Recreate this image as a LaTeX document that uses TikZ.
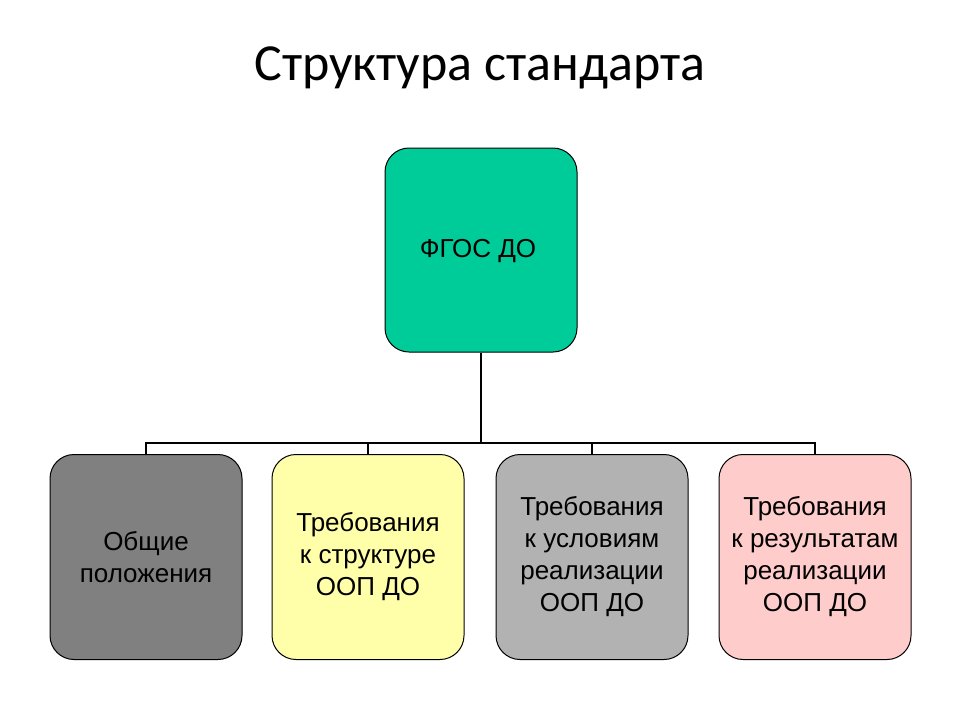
\documentclass[tikz,border=0pt]{standalone}
\usepackage{fontspec}
\setmainfont{Liberation Sans}
\newfontfamily\titlefont{Carlito}
\begin{document}
\begin{tikzpicture}[x=1pt,y=-1pt,
  box/.style={draw=black,line width=1pt,rounded corners=24pt,minimum width=192pt,minimum height=204pt,align=center,font=\fontsize{26}{32}\selectfont,inner sep=0pt},
  conn/.style={line width=2.5pt}]
\useasboundingbox (0,0) rectangle (960,720);
\fill[white] (0,0) rectangle (960,720);
\node (title) at (480,68) {\titlefont\fontsize{52}{60}\selectfont Структура стандарта};
\node[box,fill={rgb,255:red,0;green,204;blue,153}] (top) at (481,250) {};
\node[font=\fontsize{26}{32}\selectfont] (toplabel) at (478,251) {ФГОС ДО};
\node[box,fill={rgb,255:red,128;green,128;blue,128},minimum height=205pt] (b1) at (146,557) {Общие\\положения};
\node[box,fill={rgb,255:red,255;green,255;blue,170},minimum height=205pt] (b2) at (368,557) {Требования\\к структуре\\ООП ДО};
\node[box,fill={rgb,255:red,178;green,178;blue,178},minimum height=205pt] (b3) at (592,557) {Требования\\к условиям\\реализации\\ООП ДО};
\node[box,fill={rgb,255:red,255;green,204;blue,204},minimum height=205pt] (b4) at (815,557) {Требования\\к результатам\\реализации\\ООП ДО};
\coordinate (j) at (481,443);
\draw[conn] (top.south) -- (j);
\draw[line width=2pt] (j) -| (b1.north);
\draw[line width=2pt] (j) -| (b2.north);
\draw[line width=2pt] (j) -| (b3.north);
\draw[line width=2pt] (j) -| (b4.north);
\end{tikzpicture}
\end{document}
